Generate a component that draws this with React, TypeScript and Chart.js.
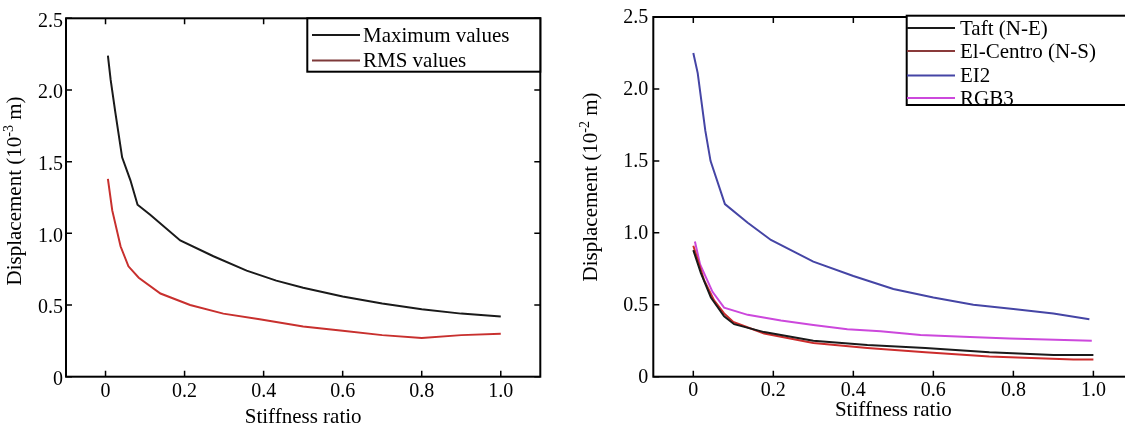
import React, { useEffect, useRef } from "react";
import { Chart, registerables } from "chart.js";

Chart.register(...registerables);

// ---------- shared axis data ----------
const xTickValues = [0, 0.2, 0.4, 0.6, 0.8, 1.0];
const xTickLabels = ["0", "0.2", "0.4", "0.6", "0.8", "1.0"];
const yTickValues = [0, 0.5, 1.0, 1.5, 2.0, 2.5];
const yTickLabels = ["0", "0.5", "1.0", "1.5", "2.0", "2.5"];
const xAxisTitle = "Stiffness ratio";

// ---------- left panel data ----------
const maxX = [0.006, 0.013, 0.025, 0.042, 0.063, 0.081, 0.113, 0.189, 0.273, 0.357, 0.432, 0.5, 0.6, 0.7, 0.8, 0.9, 1.0];
const maxY = [2.24, 2.07, 1.84, 1.53, 1.37, 1.2, 1.13, 0.95, 0.84, 0.74, 0.67, 0.62, 0.56, 0.51, 0.47, 0.44, 0.42];
const rmsX = [0.006, 0.017, 0.038, 0.058, 0.084, 0.139, 0.214, 0.298, 0.39, 0.5, 0.6, 0.7, 0.8, 0.9, 1.0];
const rmsY = [1.38, 1.16, 0.91, 0.77, 0.69, 0.58, 0.5, 0.44, 0.4, 0.35, 0.32, 0.29, 0.27, 0.29, 0.3];
const leftLabels = ["Maximum values", "RMS values"];

// ---------- right panel data ----------
const taftX = [0.0, 0.019, 0.044, 0.077, 0.102, 0.177, 0.3, 0.435, 0.58, 0.74, 0.9, 1.0];
const taftY = [0.88, 0.72, 0.55, 0.42, 0.365, 0.31, 0.25, 0.22, 0.2, 0.17, 0.15, 0.15];
const elCentroX = [0.0, 0.027, 0.052, 0.077, 0.1, 0.177, 0.3, 0.435, 0.58, 0.74, 0.95, 1.0];
const elCentroY = [0.91, 0.67, 0.53, 0.44, 0.38, 0.3, 0.235, 0.2, 0.17, 0.14, 0.12, 0.12];
const ei2X = [0.0, 0.011, 0.03, 0.043, 0.079, 0.136, 0.194, 0.3, 0.4, 0.5, 0.6, 0.7, 0.8, 0.9, 0.99];
const ei2Y = [2.25, 2.11, 1.71, 1.5, 1.2, 1.07, 0.95, 0.8, 0.7, 0.61, 0.55, 0.5, 0.47, 0.44, 0.4];
const rgb3X = [0.004, 0.017, 0.048, 0.077, 0.136, 0.219, 0.3, 0.385, 0.468, 0.568, 0.675, 0.79, 0.996];
const rgb3Y = [0.94, 0.78, 0.59, 0.48, 0.43, 0.39, 0.36, 0.33, 0.316, 0.29, 0.277, 0.266, 0.25];
const rightLabels = ["Taft (N-E)", "El-Centro (N-S)", "EI2", "RGB3"];

const FONT = '"Liberation Serif", "Times New Roman", serif';
const H = 431;

type Series = { xs: number[]; ys: number[]; color: string; legendColor: string; label: string };
type PanelCfg = {
  pageLeft: number;
  viewWidth: number;
  canvasWidth: number;
  area: { l: number; r: number; t: number; b: number };
  series: Series[];
  yTitle: [string, string, string];
  yTitlePos: { x: number; y: number };
  xTitleY: number;
  legend: { x: number; y: number; w: number; h: number; line0: number; line1: number; textX: number; rows: number[] };
  yTickPad: number;
  xTickPad: number;
  yLabelOffset: number;
};

const leftCfg: PanelCfg = {
  pageLeft: 0,
  viewWidth: 560,
  canvasWidth: 560,
  area: { l: 66, r: 540.3, t: 18.3, b: 376.7 },
  series: [
    { xs: maxX, ys: maxY, color: "#1a1a1a", legendColor: "#1a1a1a", label: leftLabels[0] },
    { xs: rmsX, ys: rmsY, color: "#c8302e", legendColor: "#7e3a3a", label: leftLabels[1] },
  ],
  yTitle: ["Displacement (10", "-3", " m)"],
  yTitlePos: { x: 14, y: 191 },
  xTitleY: 417,
  legend: { x: 307.3, y: 18.3, w: 233, h: 53.4, line0: 312, line1: 360, textX: 363, rows: [35, 60.5] },
  yTickPad: 3,
  xTickPad: 3,
  yLabelOffset: 3,
};

const rightCfg: PanelCfg = {
  pageLeft: 565,
  viewWidth: 560,
  canvasWidth: 580,
  area: { l: 88.3, r: 568.4, t: 15.7, b: 376.7 },
  series: [
    { xs: taftX, ys: taftY, color: "#1a1a1a", legendColor: "#1a1a1a", label: rightLabels[0] },
    { xs: elCentroX, ys: elCentroY, color: "#cc2c2c", legendColor: "#8a3a3a", label: rightLabels[1] },
    { xs: ei2X, ys: ei2Y, color: "#4545a5", legendColor: "#4545a5", label: rightLabels[2] },
    { xs: rgb3X, ys: rgb3Y, color: "#cc48dc", legendColor: "#cc48dc", label: rightLabels[3] },
  ],
  yTitle: ["Displacement (10", "-2", " m)"],
  yTitlePos: { x: 25, y: 187 },
  xTitleY: 410,
  legend: { x: 341.7, y: 15.7, w: 260, h: 89.3, line0: 342, line1: 390, textX: 395, rows: [28, 51, 75.5, 98] },
  yTickPad: 5,
  xTickPad: 2,
  yLabelOffset: 1,
};

function drawYTitle(ctx: CanvasRenderingContext2D, cx: number, cy: number, parts: [string, string, string]) {
  const f1 = `21px ${FONT}`;
  const f2 = `14px ${FONT}`;
  ctx.save();
  ctx.translate(cx, cy);
  ctx.rotate(-Math.PI / 2);
  ctx.fillStyle = "#000";
  ctx.textAlign = "left";
  ctx.textBaseline = "alphabetic";
  ctx.font = f1;
  const w1 = ctx.measureText(parts[0]).width;
  const w3 = ctx.measureText(parts[2]).width;
  ctx.font = f2;
  const w2 = ctx.measureText(parts[1]).width;
  let x = -(w1 + w2 + w3) / 2;
  ctx.font = f1;
  ctx.fillText(parts[0], x, 7);
  x += w1;
  ctx.font = f2;
  ctx.fillText(parts[1], x, -1);
  x += w2;
  ctx.font = f1;
  ctx.fillText(parts[2], x, 7);
  ctx.restore();
}

function Panel({ cfg }: { cfg: PanelCfg }) {
  const ref = useRef<HTMLCanvasElement | null>(null);

  useEffect(() => {
    if (!ref.current) return;
    const a = cfg.area;
    const overlay = {
      id: "overlay",
      afterDatasetsDraw(chart: any) {
        const { ctx, chartArea: ca, scales } = chart;
        ctx.save();
        // frame
        ctx.strokeStyle = "#000";
        ctx.lineWidth = 2;
        ctx.strokeRect(ca.left, ca.top, ca.right - ca.left, ca.bottom - ca.top);
        // inward ticks
        ctx.lineWidth = 1.5;
        ctx.beginPath();
        for (const v of xTickValues) {
          const px = scales.x.getPixelForValue(v);
          ctx.moveTo(px, ca.bottom);
          ctx.lineTo(px, ca.bottom - 6);
          ctx.moveTo(px, ca.top);
          ctx.lineTo(px, ca.top + 6);
        }
        for (const v of yTickValues) {
          const py = scales.y.getPixelForValue(v);
          ctx.moveTo(ca.left, py);
          ctx.lineTo(ca.left + 6, py);
          ctx.moveTo(ca.right, py);
          ctx.lineTo(ca.right - 6, py);
        }
        ctx.stroke();
        // legend
        const L = cfg.legend;
        ctx.fillStyle = "#fff";
        ctx.fillRect(L.x, L.y, L.w, L.h);
        ctx.lineWidth = 2;
        ctx.strokeStyle = "#000";
        ctx.strokeRect(L.x, L.y, L.w, L.h);
        ctx.font = `21px ${FONT}`;
        ctx.textAlign = "left";
        ctx.textBaseline = "middle";
        cfg.series.forEach((s, i) => {
          const ry = L.rows[i];
          ctx.strokeStyle = s.legendColor;
          ctx.lineWidth = 2;
          ctx.beginPath();
          ctx.moveTo(L.line0, ry);
          ctx.lineTo(L.line1, ry);
          ctx.stroke();
          ctx.fillStyle = "#000";
          ctx.fillText(s.label, L.textX, ry + 1);
        });
        // x title
        ctx.fillStyle = "#000";
        ctx.textAlign = "center";
        ctx.textBaseline = "middle";
        ctx.font = `21px ${FONT}`;
        ctx.fillText(xAxisTitle, (ca.left + ca.right) / 2, cfg.xTitleY);
        ctx.restore();
        drawYTitle(ctx, cfg.yTitlePos.x, cfg.yTitlePos.y, cfg.yTitle);
      },
    };

    const chart = new Chart(ref.current, {
      type: "line",
      data: {
        datasets: cfg.series.map((s) => ({
          label: s.label,
          data: s.xs.map((x, i) => ({ x, y: s.ys[i] })),
          borderColor: s.color,
          backgroundColor: s.color,
          borderWidth: 2,
          pointRadius: 0,
          tension: 0,
          fill: false,
        })),
      },
      options: {
        animation: false,
        responsive: false,
        maintainAspectRatio: false,
        devicePixelRatio: 1,
        layout: { padding: { left: 0, top: a.t, right: cfg.canvasWidth - a.r, bottom: 0 } },
        plugins: { legend: { display: false }, tooltip: { enabled: false }, title: { display: false } },
        scales: {
          x: {
            type: "linear",
            min: -0.1,
            max: 1.1,
            grid: { display: false, drawTicks: false },
            border: { display: false },
            afterBuildTicks: (axis: any) => {
              axis.ticks = xTickValues.map((v) => ({ value: v }));
            },
            afterFit: (s: any) => {
              s.height = H - a.b;
            },
            ticks: {
              autoSkip: false,
              maxRotation: 0,
              padding: cfg.xTickPad,
              color: "#000",
              font: { family: FONT, size: 20 },
              callback: (_v: any, i: number) => xTickLabels[i],
            },
          },
          y: {
            type: "linear",
            min: 0,
            max: 2.5,
            grid: { display: false, drawTicks: false },
            border: { display: false },
            afterBuildTicks: (axis: any) => {
              axis.ticks = yTickValues.map((v) => ({ value: v }));
            },
            afterFit: (s: any) => {
              s.width = a.l;
            },
            ticks: {
              autoSkip: false,
              padding: cfg.yTickPad,
              labelOffset: cfg.yLabelOffset,
              color: "#000",
              font: { family: FONT, size: 20 },
              callback: (_v: any, i: number) => yTickLabels[i],
            },
          },
        },
      },
      plugins: [overlay],
    } as any);
    return () => chart.destroy();
  }, [cfg]);

  return (
    <div
      style={{
        position: "absolute",
        left: cfg.pageLeft,
        top: 0,
        width: cfg.viewWidth,
        height: H,
        overflow: "hidden",
        background: "#fff",
      }}
    >
      <canvas
        ref={ref}
        width={cfg.canvasWidth}
        height={H}
        style={{ display: "block", width: cfg.canvasWidth, height: H }}
      />
    </div>
  );
}

export default function App() {
  return (
    <div style={{ position: "absolute", left: 0, top: 0, width: 1125, height: H, background: "#fff", overflow: "hidden" }}>
      <Panel cfg={leftCfg} />
      <Panel cfg={rightCfg} />
    </div>
  );
}
